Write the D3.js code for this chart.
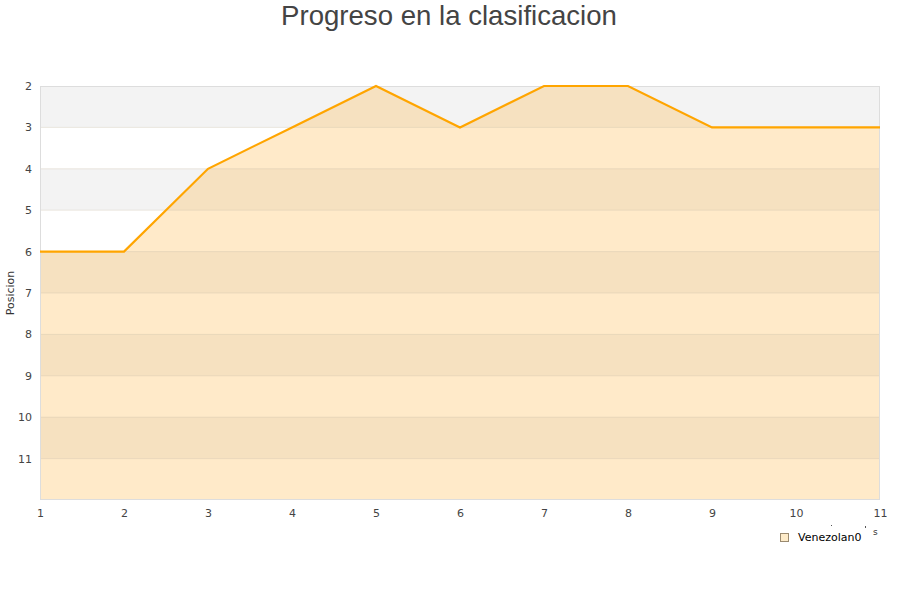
<!DOCTYPE html>
<html><head><meta charset="utf-8">
<script src="https://cdn.jsdelivr.net/npm/d3@7"></script>
<style>body{margin:0;background:#fff;}svg{display:block;font-family:"Liberation Sans",Arial,sans-serif;}</style>
</head><body>
<svg id="c" width="900" height="600"></svg>
<script>
const jornadas = [1,2,3,4,5,6,7,8,9,10,11];
const posiciones = [6,6,4,3,2,3,2,2,3,3,3];
const yTicks = [2,3,4,5,6,7,8,9,10,11];
const seriesName = "Venezolan0";
const title = "Progreso en la clasificacion";

const svg = d3.select("#c");
const m = {l:40, r:20, t:86, b:100};
const W = 900, H = 600;
const x = d3.scaleLinear().domain([1,11]).range([m.l, W-m.r]);
const y = d3.scaleLinear().domain([2,12]).range([m.t, H-m.b]);

// bands
const bands = d3.range(2,12);
svg.selectAll("rect.band").data(bands).join("rect")
  .attr("x", x(1)).attr("width", x(11)-x(1))
  .attr("y", d=>y(d)).attr("height", d=>y(d+1)-y(d))
  .attr("fill", d=> d%2===0 ? "#f3f3f3" : "#ffffff");

// area
const area = d3.area().x((d,i)=>x(jornadas[i])).y0(y(12)).y1(d=>y(d));
svg.append("path").datum(posiciones).attr("d", area)
  .attr("fill", "rgba(255,170,40,0.25)");

// gridlines
svg.selectAll("line.grid").data(yTicks.slice(1)).join("line")
  .attr("x1", x(1)).attr("x2", x(11))
  .attr("y1", d=>y(d)).attr("y2", d=>y(d))
  .attr("stroke", "rgba(200,190,170,0.35)").attr("stroke-width",1);

// border
svg.append("rect").attr("x", x(1)+0.5).attr("y", y(2)+0.5)
  .attr("width", x(11)-x(1)-1).attr("height", y(12)-y(2)-1)
  .attr("fill","none").attr("stroke","#dddddd");

// line
const line = d3.line().x((d,i)=>x(jornadas[i])).y(d=>y(d));
svg.append("path").datum(posiciones).attr("d", line)
  .attr("fill","none").attr("stroke","#ffa500").attr("stroke-width",2.2);

// y axis labels
const yAxis = d3.axisLeft(y).tickValues(yTicks).tickSize(0).tickPadding(8);
const ga = svg.append("g").attr("transform",`translate(${x(1)},0)`).call(yAxis);
ga.select(".domain").remove();
ga.selectAll("text").attr("font-size",11).attr("fill","#444").attr("font-family","DejaVu Sans, sans-serif");

// x axis labels
const xAxis = d3.axisBottom(x).tickValues(jornadas).tickFormat(d3.format("d")).tickSize(0).tickPadding(9);
const gx = svg.append("g").attr("transform",`translate(0,${y(12)})`).call(xAxis);
gx.select(".domain").remove();
gx.selectAll("text").attr("font-size",11).attr("fill","#444").attr("font-family","DejaVu Sans, sans-serif");

// y title
svg.append("text").attr("transform",`translate(14,${(y(2)+y(12))/2}) rotate(-90)`)
  .attr("text-anchor","middle").attr("font-size",11).attr("fill","#333")
  .attr("font-family","DejaVu Sans, sans-serif").text("Posicion");

// title
svg.append("text").attr("x",449).attr("y",25).attr("text-anchor","middle")
  .attr("font-size",27.6).attr("fill","#444").text(title);

// remnants of x title
svg.append("text").attr("x",873).attr("y",535).attr("font-size",9).attr("fill","#333")
  .attr("font-family","DejaVu Sans, sans-serif").text("s");
svg.append("rect").attr("x",831).attr("y",525).attr("width",1).attr("height",1).attr("fill","#555");
svg.append("rect").attr("x",865).attr("y",526).attr("width",1).attr("height",2).attr("fill","#555");

// legend
svg.append("rect").attr("x",780.5).attr("y",533.5).attr("width",8).attr("height",8)
  .attr("fill","#fdebc9").attr("stroke","#9a8a70");
svg.append("text").attr("x",798).attr("y",541).attr("font-size",11).attr("fill","#000")
  .attr("font-family","DejaVu Sans, sans-serif").text(seriesName);
</script>
</body></html>
